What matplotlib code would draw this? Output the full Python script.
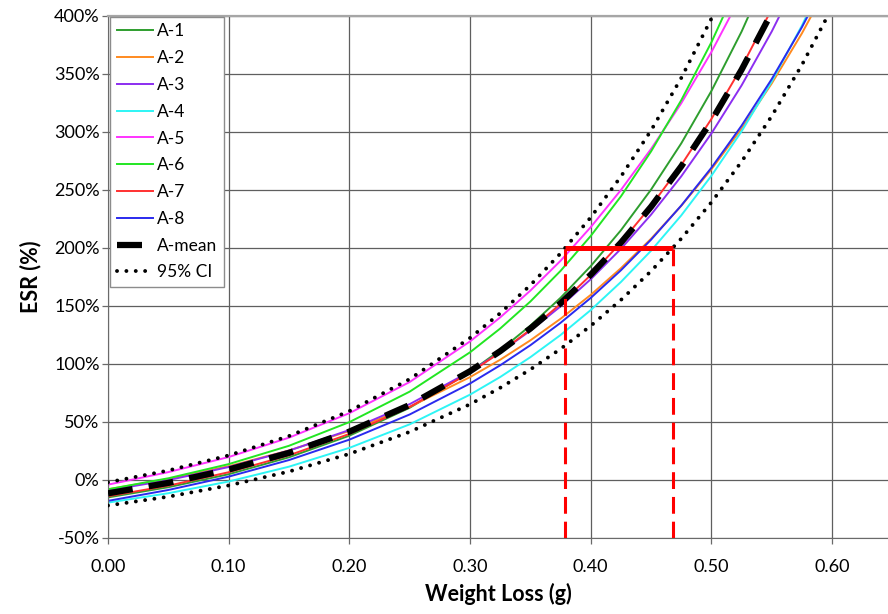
"""ESR vs weight loss: individual specimen fits, mean curve and 95% CI."""
import matplotlib
matplotlib.use("Agg")
import matplotlib.pyplot as plt
from matplotlib.ticker import FuncFormatter, MultipleLocator

plt.rcParams["font.family"] = ["Lato", "DejaVu Sans"]

# values (ESR in %)
weight_loss = [0.00, 0.05, 0.10, 0.15, 0.20, 0.25, 0.30, 0.325, 0.35, 0.375,
               0.40, 0.425, 0.45, 0.475, 0.50, 0.525, 0.55, 0.575, 0.60]

esr_a1 = [-15.0, -6.2, 5.0, 19.6, 38.2, 62.3, 93.2, 111.9, 133.1, 157.1,
          184.4, 215.3, 250.4, 290.2, 335.4, 386.6, 444.8, 510.7, 585.6]
esr_a2 = [-8.0, 0.9, 11.9, 25.5, 42.3, 63.1, 88.7, 103.7, 120.4, 139.0,
          159.6, 182.6, 208.0, 236.4, 267.9, 302.9, 341.9, 385.1, 433.3]
esr_a3 = [-9.0, -0.1, 11.2, 25.3, 43.1, 65.4, 93.5, 110.1, 128.8, 149.7,
          173.1, 199.3, 228.8, 261.8, 298.8, 340.2, 386.7, 438.8, 497.2]
esr_a4 = [-19.5, -11.4, -1.3, 11.5, 27.7, 48.0, 73.6, 88.8, 105.9, 125.0,
          146.5, 170.7, 197.7, 228.1, 262.3, 300.6, 343.6, 391.8, 446.0]
esr_a5 = [-4.0, 6.8, 19.8, 36.5, 57.6, 84.5, 119.5, 140.2, 163.3, 189.0,
          218.0, 250.0, 285.4, 324.8, 369.0, 418.4, 473.6, 535.4, 604.4]
esr_a6 = [-8.0, 1.5, 13.7, 29.5, 49.9, 76.2, 110.1, 130.6, 153.9, 180.3,
          210.4, 244.5, 283.3, 327.4, 377.4, 434.2, 498.8, 572.2, 655.5]
esr_a7 = [-14.0, -4.9, 6.7, 21.3, 39.7, 63.0, 92.5, 110.0, 129.7, 151.8,
          176.7, 204.7, 236.2, 271.5, 311.3, 355.9, 406.1, 462.6, 526.0]
esr_a8 = [-18.0, -8.6, 2.9, 17.2, 34.8, 56.5, 83.2, 98.9, 116.2, 135.5,
          157.0, 180.8, 207.2, 236.6, 269.2, 305.5, 345.7, 390.4, 440.1]
esr_mean = [-11.5, -2.5, 9.0, 23.4, 41.7, 64.7, 93.8, 111.1, 130.6, 152.4,
            177.0, 204.6, 235.6, 270.4, 309.6, 353.7, 403.1, 458.7, 521.2]
ci_upper = [-2.0, 8.2, 21.2, 37.9, 59.4, 87.0, 122.5, 143.8, 168.0, 195.4,
            226.4, 261.6, 301.4, 346.6, 397.8, 455.8, 521.5, 595.9, 680.3]
ci_lower = [-22.0, -14.4, -4.7, 7.3, 22.5, 41.5, 65.3, 79.5, 95.3, 113.0,
            132.9, 155.2, 180.1, 208.1, 239.4, 274.5, 313.8, 357.9, 407.3]

specimens = ["A-1", "A-2", "A-3", "A-4", "A-5", "A-6", "A-7", "A-8"]
specimen_esr = [esr_a1, esr_a2, esr_a3, esr_a4, esr_a5, esr_a6, esr_a7, esr_a8]
specimen_colors = ["#2e9e2e", "#ff8a1f", "#8c2ef0", "#2ef5f5",
                   "#ff33ff", "#22e622", "#ff3030", "#2a2aee"]

# 200% ESR threshold and the CI band crossing it
esr_limit = 200.0
wl_at_limit = [0.379, 0.468]

fig = plt.figure(figsize=(8.88, 6.14), dpi=100)
ax = fig.add_axes([108 / 888, 1 - 538 / 614, 780 / 888, 522 / 614])

dotted = (0, (0.01, 2.4))
ax.plot(weight_loss, ci_upper, color="black", lw=2.8, linestyle=dotted,
        dash_capstyle="round", zorder=3, label="95% CI")
ax.plot(weight_loss, ci_lower, color="black", lw=2.8, linestyle=dotted,
        dash_capstyle="round", zorder=3)

handles = []
for name, vals, col in zip(specimens, specimen_esr, specimen_colors):
    h, = ax.plot(weight_loss, vals, color=col, lw=1.4, zorder=2.5, label=name)
    handles.append(h)

h_mean, = ax.plot(weight_loss, esr_mean, color="black", lw=4.5,
                  linestyle=(0, (4.0, 2.6)), zorder=4, label="A-mean")
handles.append(h_mean)
handles.append(ax.lines[0])

# threshold annotation
ax.plot(wl_at_limit, [esr_limit, esr_limit], color="#ff0000", lw=3.6,
        solid_capstyle="butt", zorder=5)
for xv in wl_at_limit:
    ax.plot([xv, xv], [-50, esr_limit], color="#ff0000", lw=2.2,
            linestyle=(0, (5.5, 2.6)), zorder=5)

ax.set_xlim(0, 0.6463)
ax.set_ylim(-50, 400)
ax.xaxis.set_major_locator(MultipleLocator(0.1))
ax.yaxis.set_major_locator(MultipleLocator(50))
ax.xaxis.set_major_formatter(FuncFormatter(lambda v, _: f"{v:.2f}"))
ax.yaxis.set_major_formatter(FuncFormatter(lambda v, _: f"{v:.0f}%"))
ax.grid(True, color="#5f5f5f", lw=0.9)
ax.set_axisbelow(True)

ax.spines["right"].set_visible(False)
ax.spines["top"].set_color("#a6a6a6")
ax.spines["top"].set_linewidth(1.6)
ax.spines["left"].set_color("#6a6a6a")
ax.spines["bottom"].set_color("#6a6a6a")
ax.tick_params(axis="both", direction="out", length=4, width=0.9,
               color="#6a6a6a", labelsize=13, labelcolor="black")
ax.tick_params(axis="x", pad=11)
ax.tick_params(axis="y", pad=2)

ax.set_xlabel("Weight Loss (g)", fontsize=15.5, fontweight="bold", labelpad=6)
ax.set_ylabel("ESR (%)", fontsize=15.5, fontweight="bold", labelpad=9)

leg = ax.legend(handles=handles, loc="upper left", bbox_to_anchor=(0.002, 0.999),
                fontsize=12.5, frameon=True, fancybox=False, framealpha=1,
                edgecolor="#8c8c8c", handlelength=2.1, handletextpad=0.25,
                labelspacing=0.62, borderpad=0.4, borderaxespad=0.0)
leg.get_frame().set_linewidth(1.0)

fig.savefig("out.png", dpi=100)
